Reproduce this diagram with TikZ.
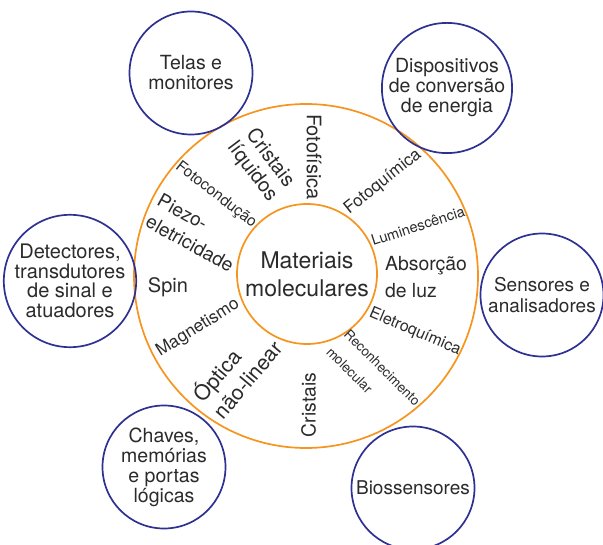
\documentclass[tikz,border=0pt]{standalone}
\usepackage{fontspec}
\setmainfont{TeX Gyre Heros}
\definecolor{ringc}{HTML}{F7941D}
\definecolor{navy}{HTML}{2E3192}
\definecolor{ink}{HTML}{2B2B2B}
\newcommand\fsz[2]{\fontsize{#1}{#2}\selectfont}
\tikzset{
  app/.style={draw=navy, line width=1.7pt, circle, minimum size=123pt, inner sep=0pt,
    align=center, text=ink, font=\fsz{19.5}{20}},
  orng/.style={draw=ringc, line width=1.7pt, circle, inner sep=0pt},
  lab/.style={inner sep=0pt, text=ink},
}
\begin{document}
\begin{tikzpicture}[x=1pt,y=-1pt]
\useasboundingbox (0,0) rectangle (603,545);
\fill[white] (0,0) rectangle (603,545);
% rings
\node[orng, minimum size=344pt] (ring) at (306,276) {};
\node[orng, minimum size=140pt, align=center, text=ink, font=\fsz{23}{28}] (core) at (307,274) {Materiais\\moleculares};
% application circles
\node[app] (telas) at (191,73) {Telas e\\monitores};
\node[app] (disp) at (447,88) {Dispositivos\\de conversão\\de energia};
\node[app, font=\fsz{20}{19.5}] (det) at (70,281) {Detectores,\\transdutores\\de sinal e\\atuadores};
\node[app, font=\fsz{19}{21.5}] (sens) at (542,295) {Sensores e\\analisadores};
\node[app] (chaves) at (164,467) {Chaves,\\memórias\\e portas\\lógicas};
\node[app, font=\fsz{19}{20}] (bio) at (413,488) {Biossensores};
% ring labels
\node[lab, rotate=-90, font=\fsz{20}{22}] (fotofis) at (314,157) {Fotofísica};
\node[lab, rotate=-53, align=center, font=\fsz{20}{22}] (crliq) at (261,165) {Cristais\\líquidos};
\node[lab, rotate=-37.6, font=\fsz{15.5}{18}] (fotocond) at (216,195) {Fotocondução};
\node[lab, rotate=-29, align=left, font=\fsz{19}{24}] (piezo) at (195.8,233) {Piezo-\\eletricidade};
\node[lab, font=\fsz{20}{22}] (spin) at (168,287) {Spin};
\node[lab, rotate=32, font=\fsz{17.3}{20}] (magnet) at (198,328) {Magnetismo};
\node[lab, rotate=50, align=left, font=\fsz{21}{26}] (optica) at (236.4,370.5) {Óptica\\não-linear};
\node[lab, rotate=90, font=\fsz{19.3}{22}] (cristais) at (308.5,405) {Cristais};
\node[lab, rotate=-45, align=left, font=\fsz{13.5}{25}] (recon) at (373.5,376.5) {Reconhecimento\\molecular};
\node[lab, rotate=-23, font=\fsz{16}{18}] (eletroq) at (415,332) {Eletroquímica};
\node[lab, align=left, font=\fsz{19.4}{27}] (absor) at (426,277) {Absorção\\de luz};
\node[lab, rotate=18, font=\fsz{14.6}{17}] (lumin) at (418,226) {Luminescência};
\node[lab, rotate=38.5, font=\fsz{17}{20}] (fotoq) at (383,182) {Fotoquímica};
\end{tikzpicture}
\end{document}
